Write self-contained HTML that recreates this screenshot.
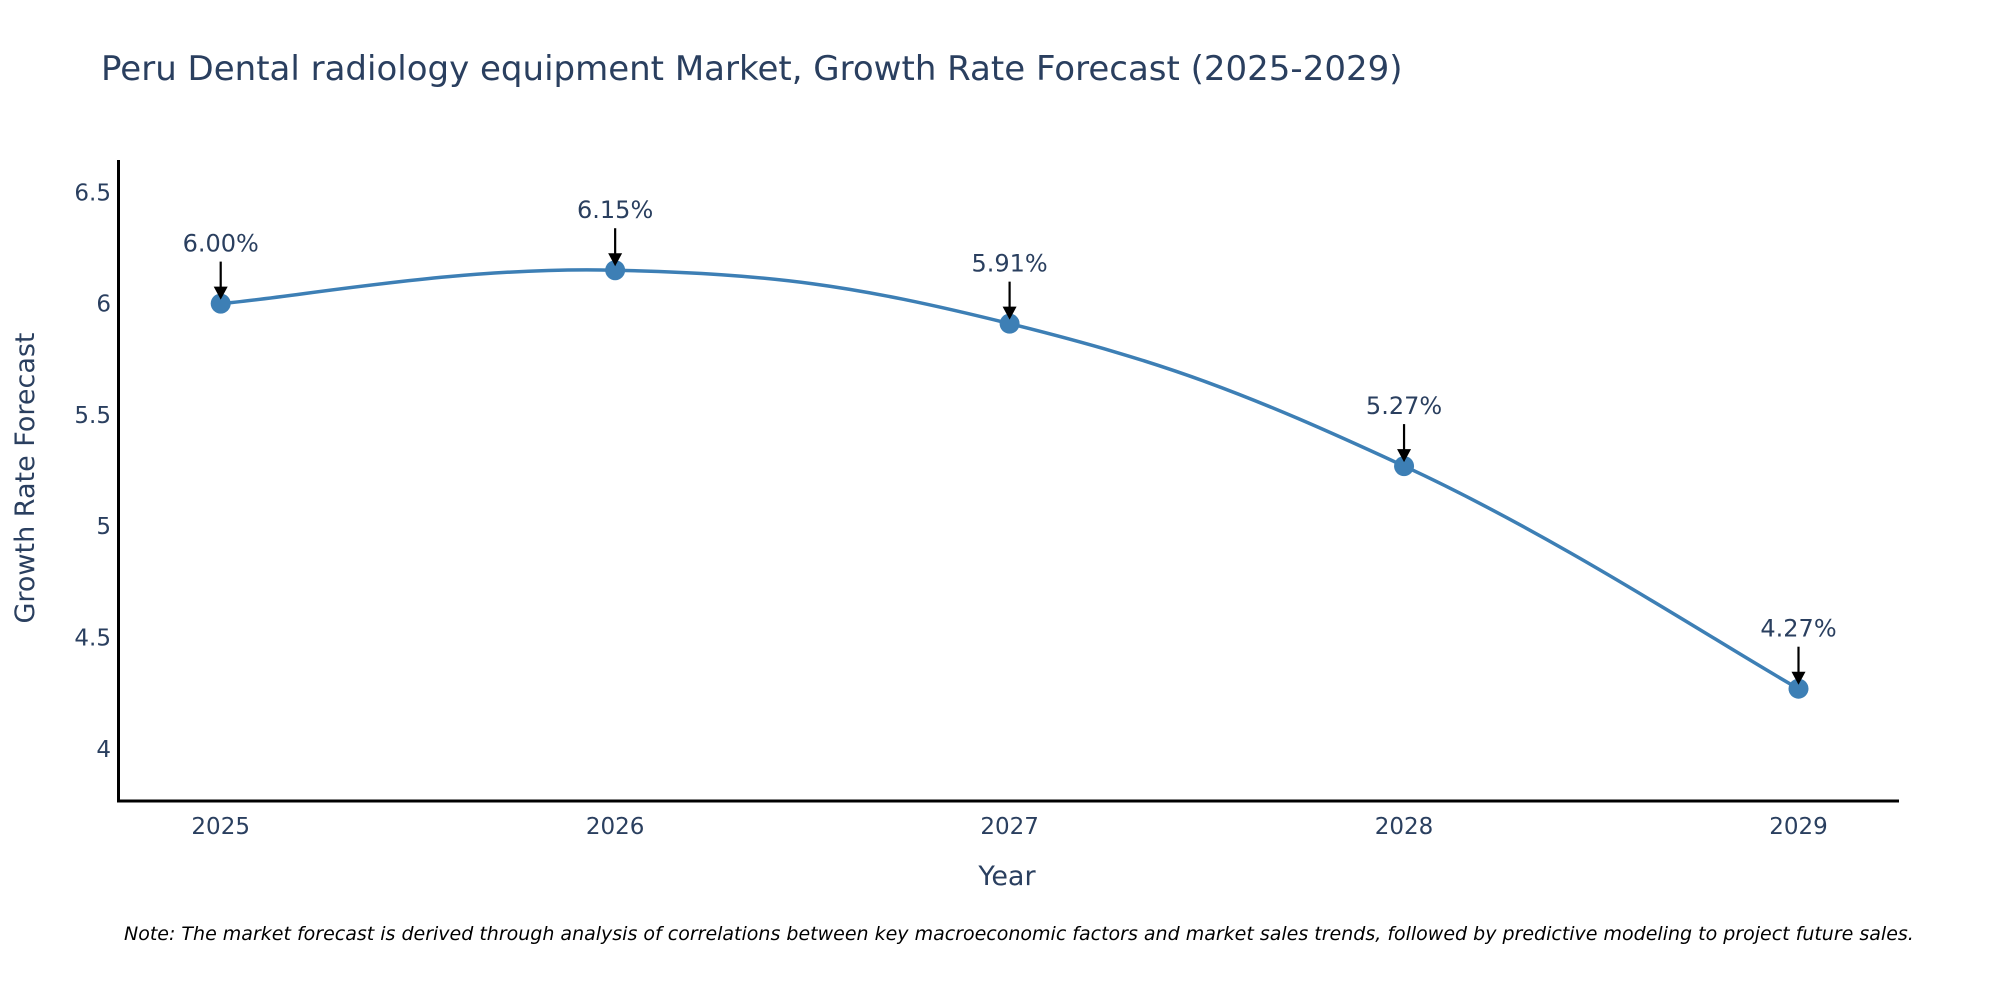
<!DOCTYPE html>
<html><head><meta charset="utf-8"><style>
html,body{margin:0;padding:0;background:#fff;overflow:hidden;}
svg{display:block;font-family:"DejaVu Sans","Liberation Sans",sans-serif;}
</style></head><body>
<svg id="chart" width="2000" height="1000" viewBox="0 0 2000 1000" xmlns="http://www.w3.org/2000/svg">
<rect width="2000" height="1000" fill="#fff"/>
<text x="101" y="80" font-size="34" fill="#2a3f5f">Peru Dental radiology equipment Market, Growth Rate Forecast (2025-2029)</text>
<g id="yticks"></g>
<g id="xticks"></g>
<path id="line" fill="none" stroke="#3d7fb5" stroke-width="3.5"/>
<g id="points"></g>
<g id="annots"></g>
<line x1="118.5" y1="160" x2="118.5" y2="802" stroke="#000" stroke-width="3"/>
<line x1="117" y1="801" x2="1899" y2="801" stroke="#000" stroke-width="3"/>
<text x="1007" y="885" font-size="27" fill="#2a3f5f" text-anchor="middle">Year</text>
<text transform="translate(34,478) rotate(-90)" font-size="27" fill="#2a3f5f" text-anchor="middle">Growth Rate Forecast</text>
<text x="124" y="940" font-size="19" font-style="italic" fill="#000">Note: The market forecast is derived through analysis of correlations between key macroeconomic factors and market sales trends, followed by predictive modeling to project future sales.</text>
</svg>
<script>
const years = [2025, 2026, 2027, 2028, 2029];
const values = [6.00, 6.15, 5.91, 5.27, 4.27];
const labels = ["6.00%", "6.15%", "5.91%", "5.27%", "4.27%"];
const yTicks = [4, 4.5, 5, 5.5, 6, 6.5];
const yTickLabels = ["4", "4.5", "5", "5.5", "6", "6.5"];

const NS = "http://www.w3.org/2000/svg";
function xScale(y){ return 220.7 + (y - 2025) * 394.45; }
function yScale(v){ return 303.6 - (v - 6) * 222.6; }
function mk(tag, attrs, parent){ const e = document.createElementNS(NS, tag); for (const k in attrs) e.setAttribute(k, attrs[k]); parent.appendChild(e); return e; }

const yg = document.getElementById('yticks');
yTicks.forEach((t, i) => {
  const e = mk('text', {x: 111, y: yScale(t) + 8, 'font-size': 23, fill: '#2a3f5f', 'text-anchor': 'end'}, yg);
  
  
  e.textContent = yTickLabels[i];
});
const xg = document.getElementById('xticks');
years.forEach(yr => {
  const e = mk('text', {x: xScale(yr), y: 834, 'font-size': 23, fill: '#2a3f5f', 'text-anchor': 'middle'}, xg);
  
  
  e.textContent = String(yr);
});

const pts = years.map((yr, i) => [xScale(yr), yScale(values[i])]);
let d = 'M' + pts[0][0] + ',' + pts[0][1];
const s = 0.2;
for (let i = 0; i < pts.length - 1; i++) {
  const p0 = pts[Math.max(0, i - 1)], p1 = pts[i], p2 = pts[i + 1], p3 = pts[Math.min(pts.length - 1, i + 2)];
  const c1 = [p1[0] + (p2[0] - p0[0]) * s, p1[1] + (p2[1] - p0[1]) * s];
  const c2 = [p2[0] - (p3[0] - p1[0]) * s, p2[1] - (p3[1] - p1[1]) * s];
  d += ' C' + c1 + ' ' + c2 + ' ' + p2;
}
document.getElementById('line').setAttribute('d', d);

const pg = document.getElementById('points');
const ag = document.getElementById('annots');
pts.forEach((p, i) => {
  const c = mk('circle', {cx: p[0], cy: p[1], r: 10, fill: '#3d7fb5'}, pg);
  
  
  const l = mk('line', {x1: p[0], y1: p[1] - 42, x2: p[0], y2: p[1] - 14, stroke: '#000', 'stroke-width': 2.2}, ag);
  
  
  const h = mk('path', {d: `M${p[0]-7},${p[1]-17} L${p[0]+7},${p[1]-17} L${p[0]},${p[1]-4} Z`, fill: '#000'}, ag);
  
  
  const t = mk('text', {x: p[0], y: p[1] - 52, 'font-size': 24, fill: '#2a3f5f', 'text-anchor': 'middle'}, ag);
  
  
  t.textContent = labels[i];
});
</script>
</body></html>
